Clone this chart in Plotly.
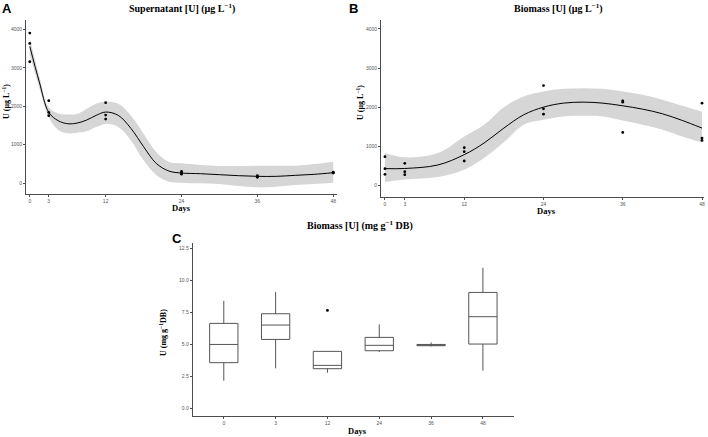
import plotly.graph_objects as go

W, H = 708, 437

# ---------------- Panel A: Supernatant [U] ----------------
a_pt_days = [0, 0, 0, 3, 3, 3, 12, 12, 12, 24, 24, 24, 36, 36, 36, 48, 48, 48]
a_pt_vals = [3905, 3636, 3158, 2143, 1839, 1753, 2091, 1770, 1666,
             300, 260, 230, 190, 170, 150, 280, 270, 260]
a_fit_days = [0, 1.5, 3, 4.5, 6, 7.5, 9, 10.5, 12, 14, 16, 18, 20, 22, 24,
              27, 30, 33, 36, 39, 42, 45, 48]
a_fit = [3557, 2637, 1840, 1622, 1544, 1561, 1640, 1761, 1848, 1761, 1423, 946,
         512, 312, 260, 243, 217, 191, 174, 174, 200, 226, 269]
a_upper = [3766, 2790, 1975, 1813, 1787, 1800, 1935, 2065, 2117, 2065, 1761, 1284,
           807, 547, 512, 469, 443, 443, 451, 451, 451, 495, 555]
a_lower = [3332, 2480, 1710, 1380, 1293, 1310, 1345, 1458, 1540, 1458, 1110, 590,
           208, 35, 9, -9, -26, -78, -113, -95, -52, -26, 9]

# ---------------- Panel B: Biomass [U] (ug/L) ----------------
b_pt_days = [0, 0, 0, 3, 3, 3, 12, 12, 12, 24, 24, 24, 36, 36, 36, 48, 48, 48]
b_pt_vals = [732, 426, 281, 562, 349, 272, 962, 860, 621, 2553, 1957, 1821,
             2162, 2128, 1353, 2102, 1209, 1149]
b_fit_days = [0, 3, 8, 12, 15, 18, 21, 24, 27, 30, 33, 36, 39, 42, 45, 48]
b_fit = [426, 430, 519, 783, 1081, 1464, 1804, 2000, 2102, 2128, 2102, 2034,
         1949, 1830, 1660, 1464]
b_upper = [825, 715, 825, 1251, 1549, 2000, 2272, 2400, 2468, 2485, 2468, 2400,
           2315, 2187, 2034, 1881]
b_lower = [77, 145, 213, 400, 698, 1100, 1549, 1677, 1762, 1779, 1762, 1660,
           1549, 1421, 1251, 1098]

# ---------------- Panel C: Biomass [U] (mg/g DB) ----------------
c_days = ["0", "3", "12", "24", "36", "48"]
c_low = [2.18, 3.14, 2.80, 4.41, 4.85, 2.96]
c_q1 = [3.58, 5.39, 3.11, 4.51, 4.90, 5.03]
c_med = [5.00, 6.51, 3.37, 4.93, 4.95, 7.16]
c_q3 = [6.64, 7.39, 4.46, 5.55, 5.00, 9.05]
c_high = [8.40, 9.08, 4.46, 6.56, 5.16, 10.97]
c_out_days = ["12"]
c_out_vals = [7.65]

tick_days = [0, 3, 12, 24, 36, 48]
yticks_ab = [0, 1000, 2000, 3000, 4000]
yticks_c = [0.0, 2.5, 5.0, 7.5, 10.0, 12.5]
yticks_c_txt = ["0.0", "2.5", "5.0", "7.5", "10.0", "12.5"]

BAND = "#d6d6d6"
AX = "#4d4d4d"
TICKFONT = dict(family="Liberation Sans", size=5, color="#555555")
SERIF = "Liberation Serif"

fig = go.Figure()


def add_smooth(xax, yax, days, fit, up, lo, pdays, pvals):
    fig.add_trace(go.Scatter(x=days, y=lo, mode="lines", line=dict(width=0, shape="spline"),
                             xaxis=xax, yaxis=yax, showlegend=False, hoverinfo="skip"))
    fig.add_trace(go.Scatter(x=days, y=up, mode="lines", line=dict(width=0, shape="spline"),
                             fill="tonexty", fillcolor=BAND,
                             xaxis=xax, yaxis=yax, showlegend=False, hoverinfo="skip"))
    fig.add_trace(go.Scatter(x=days, y=fit, mode="lines",
                             line=dict(color="black", width=1, shape="spline", smoothing=1.0),
                             xaxis=xax, yaxis=yax, showlegend=False))
    fig.add_trace(go.Scatter(x=pdays, y=pvals, mode="markers",
                             marker=dict(color="black", size=2.8),
                             xaxis=xax, yaxis=yax, showlegend=False))


add_smooth("x", "y", a_fit_days, a_fit, a_upper, a_lower, a_pt_days, a_pt_vals)
add_smooth("x2", "y2", b_fit_days, b_fit, b_upper, b_lower, b_pt_days, b_pt_vals)

for i, d in enumerate(c_days):
    fig.add_trace(go.Box(x=[d], q1=[c_q1[i]], median=[c_med[i]], q3=[c_q3[i]],
                         lowerfence=[c_low[i]], upperfence=[c_high[i]],
                         fillcolor="white", line=dict(color="#555555", width=1),
                         whiskerwidth=0, boxpoints=False,
                         xaxis="x3", yaxis="y3", showlegend=False))
fig.add_trace(go.Scatter(x=c_out_days, y=c_out_vals, mode="markers",
                         marker=dict(color="black", size=2.8),
                         xaxis="x3", yaxis="y3", showlegend=False))


def px(x):
    return x / W


def py(y):
    return 1 - y / H


axis_common = dict(showline=True, linecolor=AX, linewidth=1, ticks="outside",
                   ticklen=2, tickcolor=AX, tickwidth=0.8, showgrid=False,
                   zeroline=False, tickfont=TICKFONT, mirror=False)

fig.update_layout(
    width=W, height=H, margin=dict(l=0, r=0, t=0, b=0),
    paper_bgcolor="white", plot_bgcolor="white",
    boxgap=0.22,
    xaxis=dict(domain=[px(26), px(337)], range=[-0.6, 48.6], tickvals=tick_days,
               anchor="y", **axis_common),
    yaxis=dict(domain=[py(194), py(20)], range=[-286, 4245], tickvals=yticks_ab,
               anchor="x", **axis_common),
    xaxis2=dict(domain=[px(381), px(704)], range=[-0.6, 48.3], tickvals=tick_days,
                anchor="y2", **axis_common),
    yaxis2=dict(domain=[py(197), py(20)], range=[-300, 4230], tickvals=yticks_ab,
                anchor="x2", **axis_common),
    xaxis3=dict(domain=[px(192.7), px(514)], type="category", range=[-0.6, 5.6],
                categoryorder="array", categoryarray=c_days,
                anchor="y3", **axis_common),
    yaxis3=dict(domain=[py(415.7), py(243)], range=[-0.55, 12.9], tickvals=yticks_c,
                ticktext=yticks_c_txt, anchor="x3", **axis_common),
)

ann = []


def text(x, y, s, size, family=SERIF, angle=0, bold=True, color="black"):
    ann.append(dict(x=px(x), y=py(y), xref="paper", yref="paper", text=(f"<b>{s}</b>" if bold else s),
                    showarrow=False, textangle=angle, xanchor="center", yanchor="middle",
                    font=dict(family=family, size=size, color=color)))


text(182, 8, "Supernatant [U] (µg L<sup>−1</sup>)", 10)
text(558, 8, "Biomass [U] (µg L<sup>−1</sup>)", 10)
text(360, 225, "Biomass [U] (mg g<sup>−1</sup> DB)", 10)
text(6.5, 8.5, "A", 13, family="Liberation Sans")
text(353, 8.5, "B", 13, family="Liberation Sans")
text(177.5, 238, "C", 13, family="Liberation Sans")
text(6, 102, "U (µg L<sup>−1</sup>)", 8, angle=-90)
text(360, 103, "U (µg L<sup>−1</sup>)", 8, angle=-90)
text(163, 333, "U (mg g<sup>−1</sup>DB)", 8, angle=-90)
text(181, 207.5, "Days", 8.5)
text(546, 211, "Days", 8.5)
text(357, 430.5, "Days", 8.5)

fig.update_layout(annotations=ann)
fig.write_html("out.html", config={"displayModeBar": False},
               post_script="document.body.style.margin='0';document.body.style.padding='0';"
                           "document.body.style.overflow='hidden';")
